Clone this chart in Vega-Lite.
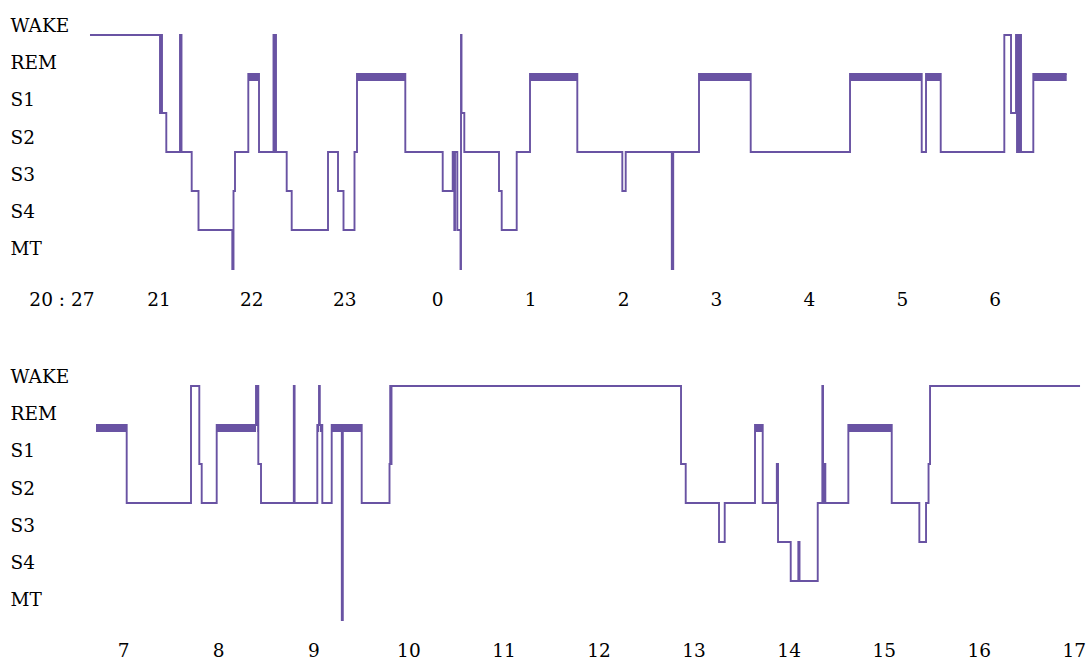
{
  "$schema": "https://vega.github.io/schema/vega-lite/v6.json",
  "padding": {"left": 10, "top": 10, "right": 3, "bottom": 0},
  "background": "white",
  "spacing": 76,
  "bounds": "flush",
  "config": {
    "view": {"stroke": null},
    "axis": {
      "labelFont": "DejaVu Serif",
      "labelFontSize": 18.5,
      "labelColor": "#000000",
      "domain": false,
      "ticks": false,
      "tickSize": 0,
      "grid": false,
      "title": null,
      "labelOverlap": false,
      "labelFlush": false,
      "labelBound": false
    }
  },
  "datasets": {
    "top": [
      {"t": 20.2639, "stage": "WAKE"},
      {"t": 21.0172, "stage": "S1"},
      {"t": 21.0280, "stage": "WAKE"},
      {"t": 21.0387, "stage": "S1"},
      {"t": 21.0850, "stage": "S2"},
      {"t": 21.2324, "stage": "WAKE"},
      {"t": 21.2486, "stage": "S2"},
      {"t": 21.3583, "stage": "S3"},
      {"t": 21.4315, "stage": "S4"},
      {"t": 21.7952, "stage": "MT"},
      {"t": 21.8082, "stage": "S3"},
      {"t": 21.8243, "stage": "S2"},
      {"t": 21.9674, "stage": "REM"},
      {"t": 22.0826, "stage": "S2"},
      {"t": 22.2386, "stage": "WAKE"},
      {"t": 22.2494, "stage": "S2"},
      {"t": 22.2580, "stage": "WAKE"},
      {"t": 22.2655, "stage": "S2"},
      {"t": 22.3806, "stage": "S3"},
      {"t": 22.4344, "stage": "S4"},
      {"t": 22.8251, "stage": "S2"},
      {"t": 22.9327, "stage": "S3"},
      {"t": 22.9919, "stage": "S4"},
      {"t": 23.1102, "stage": "S2"},
      {"t": 23.1371, "stage": "REM"},
      {"t": 23.6569, "stage": "S2"},
      {"t": 24.0594, "stage": "S3"},
      {"t": 24.1670, "stage": "S2"},
      {"t": 24.1842, "stage": "S4"},
      {"t": 24.1917, "stage": "S2"},
      {"t": 24.2165, "stage": "S4"},
      {"t": 24.2509, "stage": "MT"},
      {"t": 24.2563, "stage": "WAKE"},
      {"t": 24.2617, "stage": "S1"},
      {"t": 24.2918, "stage": "S2"},
      {"t": 24.6652, "stage": "S3"},
      {"t": 24.6943, "stage": "S4"},
      {"t": 24.8557, "stage": "S2"},
      {"t": 24.9988, "stage": "REM"},
      {"t": 25.5078, "stage": "S2"},
      {"t": 25.9921, "stage": "S3"},
      {"t": 26.0286, "stage": "S2"},
      {"t": 26.5247, "stage": "MT"},
      {"t": 26.5398, "stage": "S2"},
      {"t": 26.8174, "stage": "REM"},
      {"t": 27.3737, "stage": "S2"},
      {"t": 28.4424, "stage": "REM"},
      {"t": 29.2139, "stage": "S2"},
      {"t": 29.2602, "stage": "REM"},
      {"t": 29.4184, "stage": "S2"},
      {"t": 30.1028, "stage": "WAKE"},
      {"t": 30.1749, "stage": "S1"},
      {"t": 30.2287, "stage": "WAKE"},
      {"t": 30.2394, "stage": "S2"},
      {"t": 30.2502, "stage": "WAKE"},
      {"t": 30.2610, "stage": "S2"},
      {"t": 30.2717, "stage": "WAKE"},
      {"t": 30.2825, "stage": "S2"},
      {"t": 30.4148, "stage": "REM"},
      {"t": 30.7742, "stage": "REM"}
    ],
    "bottom": [
      {"t": 6.7139, "stage": "REM"},
      {"t": 7.0368, "stage": "S2"},
      {"t": 7.7133, "stage": "WAKE"},
      {"t": 7.8006, "stage": "S1"},
      {"t": 7.8258, "stage": "S2"},
      {"t": 7.9836, "stage": "REM"},
      {"t": 8.3971, "stage": "WAKE"},
      {"t": 8.4076, "stage": "REM"},
      {"t": 8.4139, "stage": "WAKE"},
      {"t": 8.4213, "stage": "S1"},
      {"t": 8.4497, "stage": "S2"},
      {"t": 8.7947, "stage": "WAKE"},
      {"t": 8.8031, "stage": "S2"},
      {"t": 9.0419, "stage": "REM"},
      {"t": 9.0598, "stage": "WAKE"},
      {"t": 9.0682, "stage": "REM"},
      {"t": 9.0945, "stage": "S2"},
      {"t": 9.1934, "stage": "REM"},
      {"t": 9.2997, "stage": "MT"},
      {"t": 9.3102, "stage": "REM"},
      {"t": 9.5090, "stage": "S2"},
      {"t": 9.8015, "stage": "S1"},
      {"t": 9.8088, "stage": "WAKE"},
      {"t": 9.8152, "stage": "S1"},
      {"t": 9.8225, "stage": "WAKE"},
      {"t": 12.8681, "stage": "S1"},
      {"t": 12.9175, "stage": "S2"},
      {"t": 13.2678, "stage": "S3"},
      {"t": 13.3278, "stage": "S2"},
      {"t": 13.6465, "stage": "REM"},
      {"t": 13.7275, "stage": "S2"},
      {"t": 13.8759, "stage": "S1"},
      {"t": 13.8885, "stage": "S3"},
      {"t": 14.0221, "stage": "S4"},
      {"t": 14.1021, "stage": "S3"},
      {"t": 14.1147, "stage": "S4"},
      {"t": 14.3063, "stage": "S2"},
      {"t": 14.3547, "stage": "WAKE"},
      {"t": 14.3620, "stage": "S2"},
      {"t": 14.3778, "stage": "S1"},
      {"t": 14.3862, "stage": "S2"},
      {"t": 14.6282, "stage": "REM"},
      {"t": 15.0847, "stage": "S2"},
      {"t": 15.3751, "stage": "S3"},
      {"t": 15.4456, "stage": "S2"},
      {"t": 15.4719, "stage": "S1"},
      {"t": 15.4877, "stage": "WAKE"},
      {"t": 17.0655, "stage": "WAKE"}
    ]
  },
  "vconcat": [
    {
      "data": {"name": "top"},
      "width": 1055,
      "height": 275,
      "resolve": {"scale": {"y": "independent"}},
      "encoding": {
        "x": {"field": "t", "type": "quantitative", "scale": {"domain": [19.6183, 30.971], "nice": false, "zero": false},
          "axis": {"values": [19.9562, 21, 22, 23, 24, 25, 26, 27, 28, 29, 30], "labelPadding": 5,
            "labelExpr": "datum.value < 20.5 ? '20 : 27' : format(datum.value % 24, 'd')"}}
      },
      "layer": [
        {
          "mark": {"type": "line", "interpolate": "step-after", "color": "#6953a3", "strokeWidth": 1.9},
          "encoding": {
            "order": {"field": "t", "type": "quantitative"},
            "y": {"field": "stage", "type": "ordinal", "axis": null,
              "scale": {"type": "point", "domain": ["WAKE", "REM", "S1", "S2", "S3", "S4", "MT"], "padding": 0.5256, "align": 0.6098}}
          }
        },
        {
          "transform": [
            {"window": [{"op": "lead", "field": "t", "as": "t2"}], "sort": [{"field": "t"}]},
            {"filter": "datum.stage == 'REM' && datum.t2 != null"}
          ],
          "mark": {"type": "rule", "color": "#6953a3", "strokeWidth": 7, "yOffset": 3.5},
          "encoding": {
            "x2": {"field": "t2"},
            "y": {"field": "stage", "type": "ordinal", "axis": null,
              "scale": {"type": "point", "domain": ["WAKE", "REM", "S1", "S2", "S3", "S4", "MT"], "padding": 0.5256, "align": 0.6098}}
          }
        },
        {
          "mark": {"type": "point", "opacity": 0},
          "encoding": {
            "y": {"field": "stage", "type": "ordinal",
              "scale": {"type": "point", "domain": ["WAKE", "REM", "S1", "S2", "S3", "S4", "MT"], "padding": 0.6962, "align": 0.2973},
              "axis": {"orient": "left", "labelAlign": "left", "labelBaseline": "middle", "labelPadding": 20}}
          }
        }
      ]
    },
    {
      "data": {"name": "bottom"},
      "width": 1055,
      "height": 275,
      "resolve": {"scale": {"y": "independent"}},
      "encoding": {
        "x": {"field": "t", "type": "quantitative", "scale": {"domain": [6.01957, 17.1178], "nice": false, "zero": false},
          "axis": {"values": [7, 8, 9, 10, 11, 12, 13, 14, 15, 16, 17], "format": "d", "labelPadding": 5}}
      },
      "layer": [
        {
          "mark": {"type": "line", "interpolate": "step-after", "color": "#6953a3", "strokeWidth": 1.9},
          "encoding": {
            "order": {"field": "t", "type": "quantitative"},
            "y": {"field": "stage", "type": "ordinal", "axis": null,
              "scale": {"type": "point", "domain": ["WAKE", "REM", "S1", "S2", "S3", "S4", "MT"], "padding": 0.5256, "align": 0.6098}}
          }
        },
        {
          "transform": [
            {"window": [{"op": "lead", "field": "t", "as": "t2"}], "sort": [{"field": "t"}]},
            {"filter": "datum.stage == 'REM' && datum.t2 != null"}
          ],
          "mark": {"type": "rule", "color": "#6953a3", "strokeWidth": 7, "yOffset": 3.5},
          "encoding": {
            "x2": {"field": "t2"},
            "y": {"field": "stage", "type": "ordinal", "axis": null,
              "scale": {"type": "point", "domain": ["WAKE", "REM", "S1", "S2", "S3", "S4", "MT"], "padding": 0.5256, "align": 0.6098}}
          }
        },
        {
          "mark": {"type": "point", "opacity": 0},
          "encoding": {
            "y": {"field": "stage", "type": "ordinal",
              "scale": {"type": "point", "domain": ["WAKE", "REM", "S1", "S2", "S3", "S4", "MT"], "padding": 0.6962, "align": 0.2973},
              "axis": {"orient": "left", "labelAlign": "left", "labelBaseline": "middle", "labelPadding": 20}}
          }
        }
      ]
    }
  ]
}
